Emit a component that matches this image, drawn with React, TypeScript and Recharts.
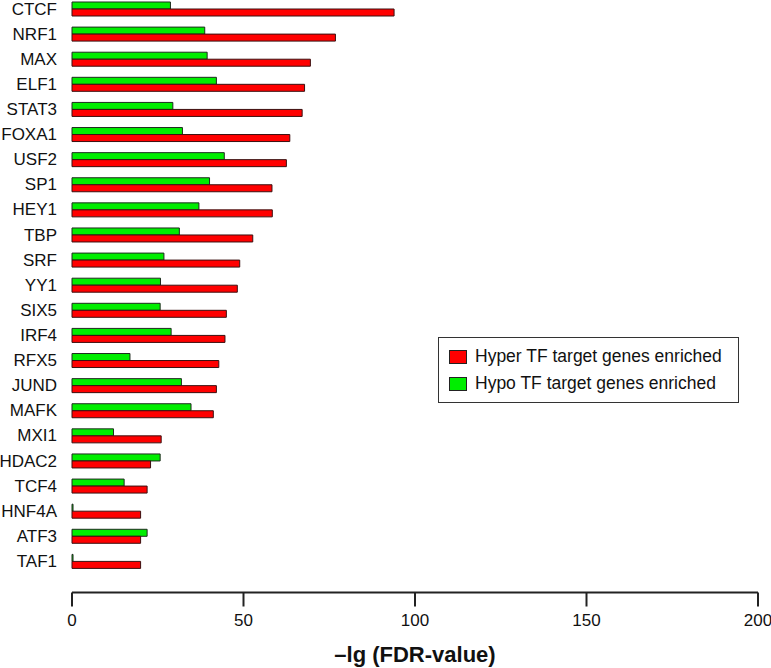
import { BarChart, Bar, XAxis, YAxis, Legend } from "recharts";

const factors = [
  "CTCF", "NRF1", "MAX", "ELF1", "STAT3", "FOXA1", "USF2", "SP1", "HEY1", "TBP", "SRF", "YY1",
  "SIX5", "IRF4", "RFX5", "JUND", "MAFK", "MXI1", "HDAC2", "TCF4", "HNF4A", "ATF3", "TAF1",
];
const hyperValues = [
  93.9, 76.8, 69.5, 67.8, 67.1, 63.5, 62.5, 58.3, 58.4, 52.7, 48.9, 48.2,
  45.0, 44.6, 42.8, 42.1, 41.2, 26.0, 22.9, 21.9, 20.0, 20.0, 20.0,
];
const hypoValues = [
  28.7, 38.7, 39.4, 42.1, 29.4, 32.2, 44.4, 40.1, 37.0, 31.3, 26.8, 25.8,
  25.7, 28.9, 16.9, 31.9, 34.7, 12.1, 25.7, 15.2, 0.3, 21.9, 0.3,
];
const xTicks = [0, 50, 100, 150, 200];

const hyperName = "Hyper TF target genes enriched";
const hypoName = "Hypo TF target genes enriched";
const legendOrder = [hyperName, hypoName];

const data = factors.map((tf, i) => ({ tf, hyper: hyperValues[i], hypo: hypoValues[i] }));

const font = "'Liberation Sans', Arial, sans-serif";
const ink = "#111";

const renderLegend = (props: any) => {
  const items = [...(props.payload || [])].sort(
    (a: any, b: any) => legendOrder.indexOf(a.value) - legendOrder.indexOf(b.value)
  );
  return (
    <div
      style={{
        width: 301,
        height: 66,
        boxSizing: "border-box",
        border: "1.5px solid #333",
        background: "#fff",
        paddingTop: 5,
        paddingLeft: 10,
        fontFamily: font,
        fontSize: 17.5,
        color: ink,
      }}
    >
      {items.map((item: any) => (
        <div key={item.value} style={{ display: "flex", alignItems: "center", height: 27 }}>
          <span
            style={{
              display: "inline-block",
              width: 18,
              height: 14,
              boxSizing: "border-box",
              border: "1px solid #222",
              background: item.color,
              marginRight: 8,
            }}
          />
          <span>{item.value}</span>
        </div>
      ))}
    </div>
  );
};

export default function App() {
  return (
    <div style={{ position: "absolute", left: 0, top: 0, background: "#fff" }}>
      <BarChart
        width={771}
        height={668}
        data={data}
        layout="vertical"
        margin={{ top: -4, right: 13, bottom: 0, left: 0 }}
        barSize={7}
        barGap={0}
      >
        <XAxis
          type="number"
          domain={[0, 200]}
          ticks={xTicks}
          height={75.5}
          tickSize={14}
          tickMargin={7}
          stroke="#222"
          strokeWidth={2}
          tick={{ fill: ink, fontSize: 17, fontFamily: font }}
          label={{
            value: "\u2013lg (FDR-value)",
            position: "insideBottom",
            offset: 6,
            fill: ink,
            fontSize: 22,
            fontWeight: "bold",
            fontFamily: font,
          }}
        />
        <YAxis
          type="category"
          dataKey="tf"
          width={72}
          axisLine={false}
          tickLine={false}
          tickSize={0}
          tickMargin={15}
          interval={0}
          padding={{ top: 0, bottom: 19 }}
          tick={{ fill: ink, fontSize: 17, fontFamily: font }}
        />
        <Legend
          layout="horizontal"
          verticalAlign="middle"
          align="center"
          content={renderLegend}
          wrapperStyle={{ position: "absolute", left: 438, top: 337, width: 301 }}
        />
        <Bar dataKey="hypo" name={hypoName} fill="#00ee00" stroke="#1f2a1f" strokeWidth={1} isAnimationActive={false} />
        <Bar dataKey="hyper" name={hyperName} fill="#ff0000" stroke="#3a1010" strokeWidth={1} isAnimationActive={false} />
      </BarChart>
    </div>
  );
}
